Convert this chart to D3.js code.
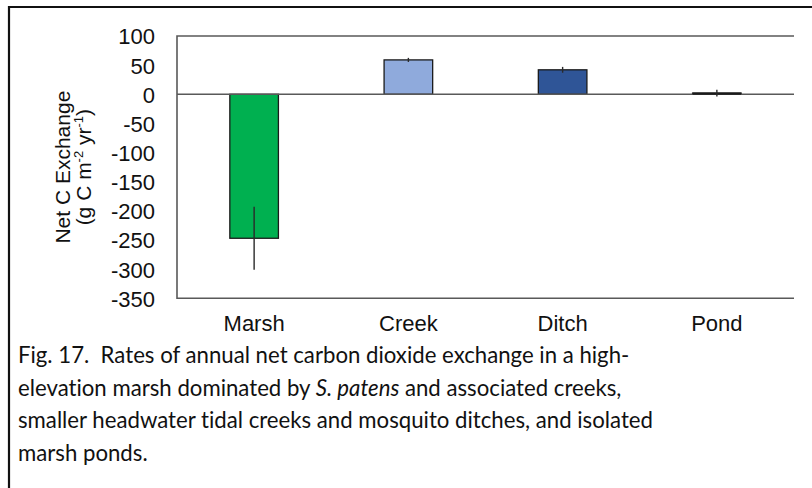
<!DOCTYPE html>
<html>
<head>
<meta charset="utf-8">
<script src="https://cdn.jsdelivr.net/npm/d3@7"></script>
<style>
  html, body { margin: 0; padding: 0; background: #fff; }
  svg { display: block; }
</style>
</head>
<body>
<svg id="chart" width="812" height="488"></svg>
<script>
// Annual net carbon exchange by habitat (g C m^-2 yr^-1), mean and error
const categories = ["Marsh", "Creek", "Ditch", "Pond"];
const netExchange = [-247, 59, 42, 2];
const errors = [54, 3.5, 5, 6];
const barColors = ["#00b050", "#8faadc", "#2f5597", "#2f5597"];
const yTicks = [100, 50, 0, -50, -100, -150, -200, -250, -300, -350];
const captionLines = [
  [{ t: "Fig. 17.\u00a0\u00a0Rates of annual net carbon dioxide exchange in a high-" }],
  [{ t: "elevation marsh dominated by " }, { t: "S. patens", i: true }, { t: " and associated creeks," }],
  [{ t: "smaller headwater tidal creeks and mosquito ditches, and isolated" }],
  [{ t: "marsh ponds." }]
];

const svg = d3.select("#chart");

// Outer figure frame (continues past the right and bottom edges)
svg.append("path")
  .attr("d", "M9,500 L9,7 L820,7")
  .attr("fill", "none")
  .attr("stroke", "#111")
  .attr("stroke-width", 2.2);

const plot = { left: 177, top: 36, right: 794, bottom: 298.3 };

const x = d3.scaleBand()
  .domain(categories)
  .range([plot.left, plot.right])
  .paddingInner(0.685)
  .paddingOuter(0.3425);

const y = d3.scaleLinear()
  .domain([-350, 100])
  .range([plot.bottom, plot.top]);

const axisColor = "#595959";
const chartFont = "Liberation Sans, Arial, sans-serif";

// Plot frame: top, left and bottom edges
svg.append("path")
  .attr("d", `M${plot.right},${plot.top} L${plot.left},${plot.top} L${plot.left},${plot.bottom} L${plot.right},${plot.bottom}`)
  .attr("fill", "none")
  .attr("stroke", axisColor)
  .attr("stroke-width", 1.6);

// Y axis labels (plain hyphen for negatives)
const yAxis = d3.axisLeft(y).tickValues(yTicks).tickSize(0).tickPadding(22).tickFormat(d => String(d));
const yG = svg.append("g").attr("transform", `translate(${plot.left},0)`).call(yAxis);
yG.select(".domain").remove();
yG.selectAll("text")
  .attr("font-family", chartFont)
  .attr("font-size", 22)
  .attr("fill", "#111")
  .attr("dy", "0.36em");

// Bars
const data = categories.map((c, i) => ({ c, v: netExchange[i], e: errors[i], color: barColors[i] }));

svg.append("g").selectAll("rect")
  .data(data)
  .join("rect")
  .attr("x", d => x(d.c))
  .attr("width", x.bandwidth())
  .attr("y", d => y(Math.max(0, d.v)))
  .attr("height", d => Math.abs(y(d.v) - y(0)))
  .attr("fill", d => d.color)
  .attr("stroke", "#1a1a1a")
  .attr("stroke-width", 1.3);

// Zero line
svg.append("line")
  .attr("x1", plot.left).attr("x2", plot.right)
  .attr("y1", y(0)).attr("y2", y(0))
  .attr("stroke", axisColor)
  .attr("stroke-width", 1.6);

// Pond bar is nearly flat: keep its outline visible over the zero line
svg.append("g").selectAll("line.flat")
  .data(data.filter(d => Math.abs(y(d.v) - y(0)) < 3))
  .join("line")
  .attr("x1", d => x(d.c)).attr("x2", d => x(d.c) + x.bandwidth())
  .attr("y1", d => y(d.v / 2)).attr("y2", d => y(d.v / 2))
  .attr("stroke", "#1a1a1a")
  .attr("stroke-width", 2.2);

// Error bars (no caps)
svg.append("g").selectAll("line.err")
  .data(data)
  .join("line")
  .attr("x1", d => x(d.c) + x.bandwidth() / 2)
  .attr("x2", d => x(d.c) + x.bandwidth() / 2)
  .attr("y1", d => y(d.v + d.e))
  .attr("y2", d => y(d.v - d.e))
  .attr("stroke", "#2a2a2a")
  .attr("stroke-width", 1.4);

// Category labels
const xAxis = d3.axisBottom(x).tickSize(0).tickPadding(17);
const xG = svg.append("g").attr("transform", `translate(0,${plot.bottom})`).call(xAxis);
xG.select(".domain").remove();
xG.selectAll("text")
  .attr("font-family", chartFont)
  .attr("font-size", 22)
  .attr("fill", "#111");

// Y axis title (two lines, rotated)
const midY = (plot.top + plot.bottom) / 2;
const title = svg.append("text")
  .attr("transform", `translate(63,${midY}) rotate(-90)`)
  .attr("text-anchor", "middle")
  .attr("font-family", chartFont)
  .attr("font-size", 21)
  .attr("fill", "#111");
title.append("tspan").attr("x", 0).attr("dy", "0.35em").text("Net C Exchange");
const l2 = svg.append("text")
  .attr("transform", `translate(84,${midY}) rotate(-90)`)
  .attr("text-anchor", "middle")
  .attr("font-family", chartFont)
  .attr("font-size", 21)
  .attr("fill", "#111")
  .attr("dy", "0.35em");
l2.append("tspan").text("(g C m");
l2.append("tspan").attr("font-size", 13).attr("dy", -8).text("-2");
l2.append("tspan").attr("dy", 8).text(" yr");
l2.append("tspan").attr("font-size", 13).attr("dy", -8).text("-1");
l2.append("tspan").attr("dy", 8).text(")");

// Figure caption
const cap = svg.append("g")
  .attr("font-family", "Lato, 'Open Sans', sans-serif")
  .attr("font-size", 22.2)
  .attr("fill", "#111")
  .style("font-variant-ligatures", "none");
captionLines.forEach((parts, i) => {
  const t = cap.append("text").attr("x", 18).attr("y", 363 + i * 32.5);
  parts.forEach(p => {
    t.append("tspan").attr("font-style", p.i ? "italic" : null).text(p.t);
  });
});
</script>
</body>
</html>
